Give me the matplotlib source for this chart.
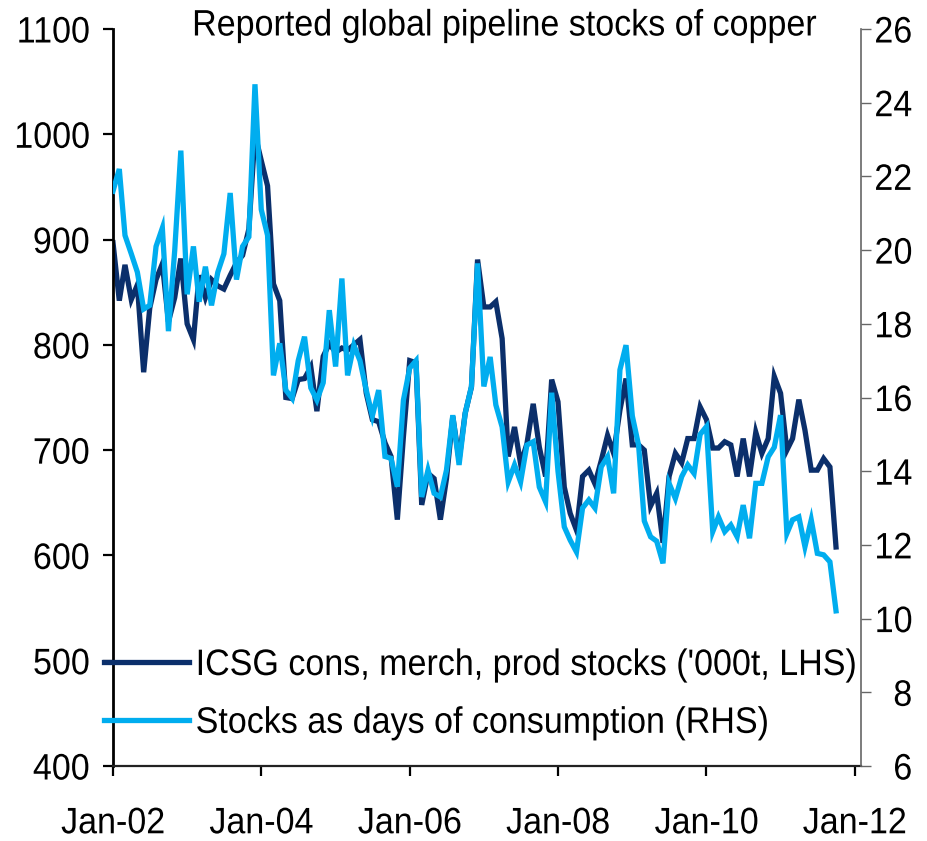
import matplotlib
matplotlib.use("Agg")
import matplotlib.pyplot as plt
import matplotlib.dates as mdates
from matplotlib.patheffects import AbstractPathEffect
from matplotlib.transforms import Affine2D
import pandas as pd

plt.rcParams['font.family'] = ['Liberation Sans', 'DejaVu Sans']


class CondensedText(AbstractPathEffect):
    """Squeeze glyphs horizontally to get a narrow typeface look."""

    def __init__(self, sx=0.9, frac=0.0):
        super().__init__()
        self.sx = sx
        self.frac = frac  # 0 = keep left edge, 0.5 = centre, 1 = right edge

    def draw_path(self, renderer, gc, tpath, affine, rgbFace=None):
        ext = tpath.get_extents()
        pivot = ext.x1 * self.frac
        squeeze = Affine2D().translate(-pivot, 0).scale(self.sx, 1).translate(pivot, 0)
        renderer.draw_path(gc, tpath, squeeze + affine, rgbFace)


# Monthly observations, Jan 2002 - Oct 2011
months = pd.date_range('2002-01-01', periods=118, freq='MS')

# ICSG consumer, merchant and producer stocks ('000 t, left axis)
icsg_stocks = [
    897, 842, 876, 843, 857, 774, 835, 862, 877, 822,
    845, 882, 820, 805, 866, 845, 862, 856, 853, 866,
    878, 885, 910, 1000, 975, 951, 858, 842, 750, 749,
    767, 768, 779, 737, 789, 801, 793, 797, 795, 800,
    805, 754, 729, 727, 707, 694, 634, 713, 785, 783,
    648, 678, 673, 634, 673, 732, 691, 735, 760, 881,
    836, 836, 841, 806, 694, 722, 687, 706, 744, 703,
    675, 767, 746, 665, 640, 624, 675, 681, 668, 690,
    714, 697, 738, 768, 705, 705, 700, 647, 659, 612,
    675, 697, 688, 711, 711, 741, 729, 702, 702, 708,
    705, 675, 711, 675, 717, 697, 711, 770, 754, 700,
    711, 748, 719, 681, 681, 692, 684, 608,
]

# Stocks expressed as days of consumption (right axis)
days_consumption = [
    21.6, 22.2, 20.4, 19.9, 19.4, 18.4, 18.5, 20.1, 20.6, 17.8,
    20.0, 22.7, 18.8, 20.1, 18.6, 19.55, 18.5, 19.4, 19.9, 21.55,
    19.2, 20.1, 20.36, 24.5, 21.1, 20.4, 16.6, 17.47, 16.2, 15.98,
    17.0, 17.65, 16.26, 15.93, 16.4, 18.37, 16.84, 19.23, 16.6, 17.42,
    17.0, 16.2, 15.5, 16.2, 14.4, 14.35, 13.58, 15.93, 16.8, 17.0,
    13.3, 14.03, 13.4, 13.3, 14.03, 15.52, 14.17, 15.57, 16.3, 19.64,
    16.3, 17.1, 15.8, 15.2, 13.71, 14.17, 13.71, 14.71, 14.8, 13.57,
    13.17, 16.13, 14.0, 12.49, 12.13, 11.81, 13.0, 13.22, 13.0, 14.12,
    14.39, 13.4, 16.75, 17.42, 15.5, 14.7, 12.65, 12.22, 12.1, 11.5,
    13.67, 13.26, 13.85, 14.17, 13.94, 15.0, 15.21, 12.36, 12.76, 12.36,
    12.54, 12.22, 13.08, 12.18, 13.67, 13.67, 14.39, 14.65, 15.52, 12.31,
    12.68, 12.76, 11.95, 12.68, 11.77, 11.73, 11.54, 10.21,
]

label_left = "ICSG cons, merch, prod stocks ('000t, LHS)"
label_right = "Stocks as days of consumption (RHS)"
title = "Reported global pipeline stocks of copper"

left_ticks = list(range(400, 1101, 100))
right_ticks = list(range(6, 27, 2))
x_tick_years = [2002, 2004, 2006, 2008, 2010, 2012]

DARK = '#0B2F6B'
LIGHT = '#00ADEF'
FS = 26.5
SX = 0.925

W, H = 928, 841
fig = plt.figure(figsize=(W / 100, H / 100), dpi=100)
ax = fig.add_axes([113 / W, 1 - 766 / H, (861 - 113) / W, (766 - 29) / H])
ax2 = ax.twinx()

l1, = ax.plot(months, icsg_stocks, color=DARK, lw=3.8, solid_joinstyle='miter')
l2, = ax2.plot(months, days_consumption, color=LIGHT, lw=3.8, solid_joinstyle='miter')

ax.set_xlim(pd.Timestamp('2002-01-01'), pd.Timestamp('2012-02-01'))
ax.set_ylim(400, 1100)
ax2.set_ylim(6, 26)
ax.set_yticks(left_ticks)
ax2.set_yticks(right_ticks)
ax.set_xticks([pd.Timestamp(f'{y}-01-01') for y in x_tick_years])
ax.xaxis.set_major_formatter(mdates.DateFormatter('Jan-%y'))

for a in (ax, ax2):
    a.spines['top'].set_visible(False)
    a.patch.set_visible(False)

ax.spines['left'].set_linewidth(2.0)
ax.spines['left'].set_color('black')
ax.spines['bottom'].set_linewidth(1.6)
ax.spines['bottom'].set_color('#222222')
ax2.spines['right'].set_linewidth(1.2)
ax2.spines['right'].set_color('#666666')
ax2.spines['left'].set_visible(False)
ax2.spines['bottom'].set_visible(False)
ax.spines['right'].set_visible(False)

ax.tick_params(axis='y', direction='out', length=7, width=1.6, pad=10, labelsize=FS, colors='black')
ax.tick_params(axis='x', direction='out', length=7, width=1.6, pad=22, labelsize=FS, colors='black')
ax2.tick_params(axis='y', direction='out', length=7, width=1.0, color='#666666',
                pad=30, labelsize=FS, labelcolor='black')

for t in ax.get_yticklabels():
    t.set_path_effects([CondensedText(SX, 1.0)])
for t in ax.get_xticklabels():
    t.set_path_effects([CondensedText(SX, 0.5)])
for t in ax2.get_yticklabels():
    t.set_horizontalalignment('right')
    t.set_path_effects([CondensedText(SX, 1.0)])

fig.text(503.5 / W, 1 - 26 / H, title, ha='center', va='center', fontsize=FS,
         path_effects=[CondensedText(SX, 0.5)])

leg = fig.legend([l1, l2], [label_left, label_right], loc='upper left',
                 bbox_to_anchor=(104 / W, 1 - 648 / H), frameon=False, fontsize=FS,
                 handlelength=2.3, handletextpad=0.19, borderpad=0, borderaxespad=0,
                 labelspacing=0.62)
for t in leg.get_texts():
    t.set_path_effects([CondensedText(SX, 0.0)])

fig.savefig('out.png', dpi=100)
